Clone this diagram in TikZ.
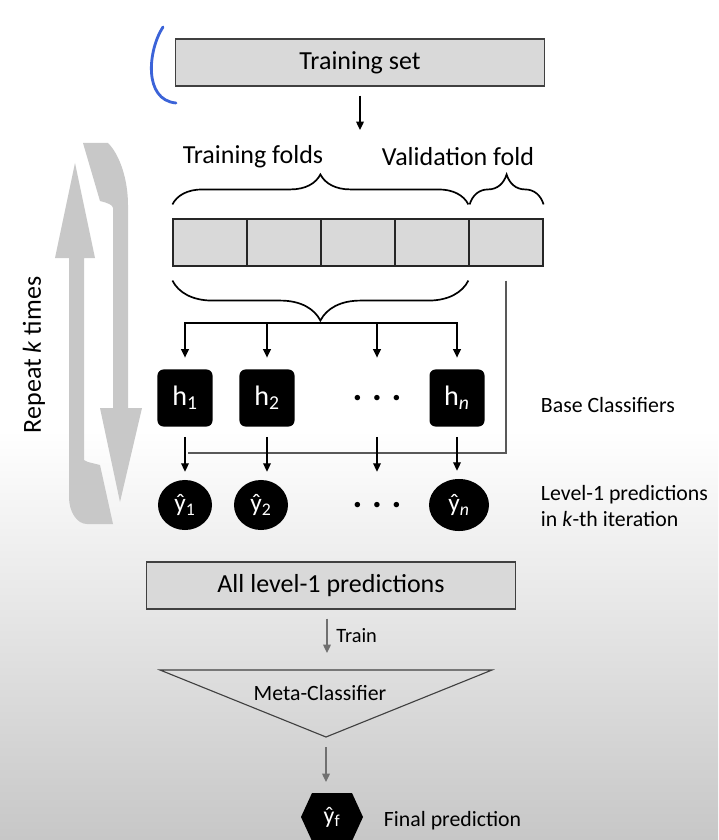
\documentclass[tikz,border=0pt]{standalone}
\usepackage{fontspec}
\setmainfont{Carlito}
\usetikzlibrary{arrows.meta, positioning, decorations.pathreplacing, shapes.geometric}

\definecolor{boxgray}{HTML}{D9D9D9}
\definecolor{loopgray}{HTML}{C8C8C8}
\definecolor{inkblue}{HTML}{3B63D8}
\definecolor{arrgray}{HTML}{707070}

\newcommand{\bigtxt}{\fontsize{18.5}{22}\selectfont}
\newcommand{\smtxt}{\fontsize{15.5}{19}\selectfont}

\tikzset{
  databox/.style={draw=black!75, fill=boxgray, line width=0.8pt, minimum height=1.175cm, inner sep=0pt},
  classbox/.style={fill=black, rounded corners=0.15cm, minimum width=1.375cm, minimum height=1.425cm, text=white, font=\fontsize{20}{22}\selectfont},
  predball/.style={ellipse, fill=black, minimum width=1.35cm, minimum height=1.25cm, inner sep=0pt, text=white, font=\fontsize{18}{20}\selectfont},
  dotsbox/.style={minimum height=#1, inner sep=0pt, font=\fontsize{26}{28}\selectfont\bfseries},
  arr/.style={-{Triangle[length=6pt,width=5.5pt]}, line width=1pt},
  grayarr/.style={arr, arrgray},
  bracket/.style={line width=1.2pt, decoration={brace, amplitude=#1}, decorate},
  valline/.style={black!65, line width=0.9pt},
}

\begin{document}
\begin{tikzpicture}[x=0.025cm, y=-0.025cm]
  % page
  \useasboundingbox (0,0) rectangle (718,840);
  \fill[white] (0,0) rectangle (718,840);
  \shade[top color=white, bottom color=black!22] (0,430) rectangle (718,840);

  % Training set
  \node[databox, minimum width=9.225cm, font=\bigtxt] (trainset) at (360,62.5) {Training set};
  \draw[inkblue, line width=2pt, line cap=round] (163,27) .. controls (148,50) and (143,100) .. (176,103);
  \coordinate (split) at (360,130);
  \draw[arr, shorten <=0.225cm] (trainset.south) -- (split);

  % Folds
  \foreach \i/\x in {1/210, 2/284, 3/358, 4/432, 5/506}
    \node[databox, draw=black!85, minimum width=1.85cm] (f\i) at (\x,242.5) {};

  \node[font=\bigtxt] (trfolds) at (253,157) {Training folds};
  \node[font=\bigtxt] (valfold) at (458,157) {Validation fold};

  \draw[bracket=0.75cm] ([yshift=0.35cm]f1.north west) -- ([xshift=-0.03cm,yshift=0.35cm]f4.north east);
  \draw[bracket=0.75cm] ([xshift=0.03cm,yshift=0.35cm]f5.north west) -- ([yshift=0.35cm]f5.north east);
  \draw[bracket=1cm] ([xshift=-0.03cm,yshift=-0.35cm]f4.south east) -- ([yshift=-0.35cm]f1.south west);

  % Base classifiers
  \coordinate (btip) at (321,323);
  \node[classbox] (h1) at (185,398) {h\textsubscript{1}};
  \node[classbox] (h2) at (267,398) {h\textsubscript{2}};
  \node[dotsbox=1.425cm] (hdots) at (377,398) {.\hspace{7pt}.\hspace{7pt}.};
  \node[classbox] (hn) at (457,398) {h\textsubscript{\textit{n}}};
  \foreach \n in {h1,h2,hdots,hn}
    \draw[arr, shorten >=0.29cm] (btip) -| (\n);

  % Level-1 predictions
  \node[predball] (y1) at (185,505) {ŷ\textsubscript{1}};
  \node[predball] (y2) at (261,505) {ŷ\textsubscript{2}};
  \node[dotsbox=1.25cm] (ydots) at (377,505) {.\hspace{7pt}.\hspace{7pt}.};
  \node[predball, minimum width=1.5cm, minimum height=1.3cm] (yn) at (459,505) {ŷ\textsubscript{\textit{n}}};

  \coordinate (vend) at (188,453);
  \draw[valline] ([yshift=-0.35cm]f5.south) |- (vend);
  \foreach \a/\b in {h1/y1, h2/y2, hdots/ydots, hn/yn}
    \draw[arr, shorten <=0.25cm, shorten >=0.2cm] (\a.south) -- (\a.south |- \b.north);

  \node[anchor=west, font=\smtxt] (baselbl) at (536,405) {Base Classifiers};
  \node[anchor=west, align=left, font=\smtxt] (lvllbl) at (536,506) {Level-1 predictions\\in \textit{k}-th iteration};

  % Repeat loop
  \node[rotate=90, font=\bigtxt] (repeat) at (34,355) {Repeat \textit{k} times};
  \fill[loopgray] (75,163) -- (95,258) -- (84,258) -- (84,460) -- (88,462) -- (100,465) -- (113,524)
    -- (87,524) .. controls (77,524) and (69,512) .. (69,497) -- (69,258) -- (55,258) -- cycle;
  \fill[loopgray] (83,143) -- (108,143) .. controls (120,155) and (128,180) .. (128,205) -- (128,408)
    -- (142,408) -- (120,502) -- (100,408) -- (113,408) -- (113,208)
    .. controls (113,205) and (108,203) .. (100,201) -- cycle;

  % Meta level
  \node[databox, minimum width=9.225cm, font=\bigtxt] (allpred) at (331,585.5) {All level-1 predictions};
  \coordinate (metatop) at (327,670);
  \draw[grayarr, shorten <=0.225cm, shorten >=0.425cm] (allpred.south -| metatop) -- (metatop)
    node[pos=0.43, right, xshift=0.1cm, text=black, font=\fontsize{14.5}{17}\selectfont] (trainlbl) {Train};

  \coordinate (mtl) at (160,670);
  \coordinate (mtr) at (492,670);
  \coordinate (mtb) at (326,737);
  \draw[black!75, line width=0.8pt] (mtl) -- (mtr) -- (mtb) -- cycle;
  \node[font=\smtxt] (meta) at (320,693) {Meta-Classifier};

  \coordinate (yf) at (332,817);
  \coordinate (hextop) at (332,793);
  \fill (yf) +(-31,0) -- +(-20,-24) -- +(20,-24) -- +(31,0) -- +(20,24) -- +(-20,24) -- cycle;
  \node[text=white, font=\fontsize{17}{18}\selectfont] (yftxt) at (yf) {ŷ\textsubscript{f}};
  \draw[grayarr, shorten <=0.25cm, shorten >=0.275cm] (mtb) -- (mtb |- hextop);

  \node[anchor=west, font=\smtxt] (finallbl) at (379,821) {Final prediction};
\end{tikzpicture}
\end{document}
